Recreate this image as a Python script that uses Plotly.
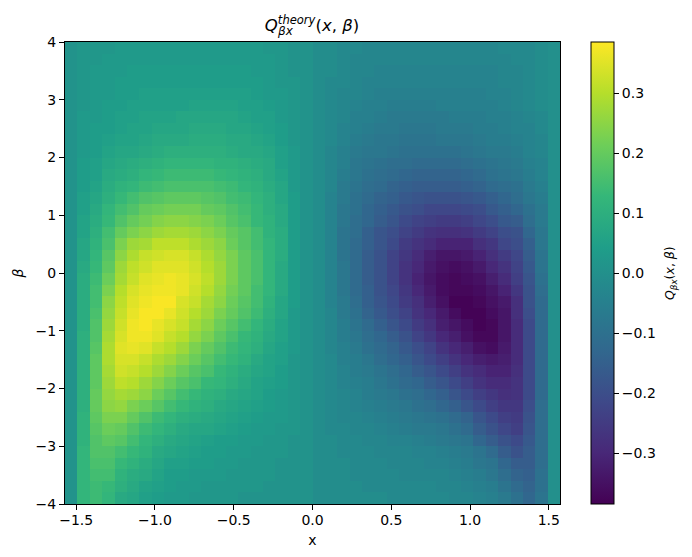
import plotly.graph_objects as go

x_centers = [-1.5315, -1.4529, -1.3744, -1.2959, -1.2173, -1.1388, -1.0603, -0.9817, -0.9032, -0.8247,
             -0.7461, -0.6676, -0.5890, -0.5105, -0.4320, -0.3534, -0.2749, -0.1963, -0.1178, -0.0393,
             0.0393, 0.1178, 0.1963, 0.2749, 0.3534, 0.4320, 0.5105, 0.5890, 0.6676, 0.7461,
             0.8247, 0.9032, 0.9817, 1.0603, 1.1388, 1.2173, 1.2959, 1.3744, 1.4529, 1.5315]
beta_centers = [3.9, 3.7, 3.5, 3.3, 3.1, 2.9, 2.7, 2.5, 2.3, 2.1, 1.9, 1.7, 1.5, 1.3, 1.1, 0.9, 0.7, 0.5, 0.3, 0.1,
                -0.1, -0.3, -0.5, -0.7, -0.9, -1.1, -1.3, -1.5, -1.7, -1.9, -2.1, -2.3, -2.5, -2.7, -2.9, -3.1, -3.3, -3.5, -3.7, -3.9]

# values in hundredths, rows from beta=3.9 down to beta=-3.9
q_left = [
 [1,2,2,2,3,3,3,3,3,3,3,3,3,3,3,3,2,2,1,1],
 [1,2,2,3,3,3,3,3,3,3,3,3,3,3,3,3,3,2,1,1],
 [1,2,3,3,3,4,4,4,4,4,4,4,4,4,4,3,3,2,1,1],
 [1,2,3,3,4,4,4,4,4,4,4,4,4,4,4,4,3,2,2,1],
 [1,2,3,3,4,4,5,5,5,5,5,5,5,5,5,4,3,3,2,1],
 [1,2,3,4,4,5,5,5,5,5,6,6,6,6,5,5,4,3,2,1],
 [1,3,3,4,5,5,6,6,6,7,7,7,7,7,6,5,5,3,2,1],
 [1,3,4,4,5,6,6,7,7,7,8,8,8,7,7,6,5,4,2,1],
 [1,3,4,5,6,6,7,8,8,8,9,9,9,8,8,7,6,4,2,1],
 [1,3,4,6,7,7,8,9,10,10,10,10,10,9,8,8,7,5,3,1],
 [1,4,5,7,8,9,10,11,12,12,12,12,11,11,10,9,8,5,3,1],
 [1,4,5,8,9,10,12,13,14,14,14,14,13,12,11,10,8,6,3,1],
 [1,4,6,9,11,12,14,15,16,16,16,16,15,14,12,11,9,7,3,1],
 [1,5,7,10,13,15,17,18,19,19,19,18,17,15,14,12,10,7,4,1],
 [1,5,8,12,15,17,20,21,22,22,22,20,19,17,15,13,10,8,4,1],
 [1,6,9,13,17,20,22,24,25,25,24,23,21,18,16,13,11,8,4,1],
 [1,6,10,15,20,23,25,27,28,28,27,25,23,20,18,15,11,9,4,1],
 [1,7,11,16,23,27,28,31,31,31,29,27,25,21,18,15,12,9,4,1],
 [1,7,12,18,25,29,32,33,34,34,32,29,26,23,19,16,12,9,4,1],
 [1,8,13,19,27,31,33,35,35,35,33,30,27,23,19,16,12,8,4,1],
 [1,9,14,21,28,32,35,36,37,36,34,31,27,23,19,16,12,8,4,1],
 [1,9,15,23,30,34,36,37,37,36,33,30,26,22,19,15,12,8,4,1],
 [1,9,15,25,31,35,37,38,38,34,32,28,25,21,18,15,11,7,4,1],
 [1,9,16,26,32,36,38,38,36,33,30,27,23,20,17,14,10,7,3,1],
 [1,9,17,27,33,37,38,36,34,32,28,25,21,18,15,12,9,6,3,1],
 [1,10,17,28,34,37,37,35,32,30,26,23,19,16,13,11,8,6,3,1],
 [1,10,18,29,35,36,35,32,30,27,23,20,17,14,12,10,7,5,3,1],
 [1,10,19,29,34,34,32,29,27,24,21,18,15,13,11,8,6,5,2,1],
 [1,10,19,28,33,32,30,27,24,21,18,16,13,11,9,7,6,4,2,1],
 [1,10,19,27,31,30,27,24,21,18,16,13,12,10,8,6,5,4,2,1],
 [1,10,20,26,28,27,25,21,18,15,13,11,10,8,7,6,4,3,2,1],
 [1,10,20,25,26,23,21,18,15,13,11,10,8,7,6,5,4,3,2,1],
 [1,11,19,23,23,20,17,14,12,10,9,8,7,6,5,4,3,3,2,1],
 [1,11,18,21,20,17,14,12,10,8,7,7,6,5,4,3,3,2,2,1],
 [1,11,17,19,18,15,12,10,8,7,6,5,4,4,3,3,2,2,1,1],
 [1,12,17,17,15,13,11,8,7,6,5,4,4,3,3,2,2,2,1,1],
 [1,12,16,16,13,11,9,7,5,5,4,4,3,3,2,2,2,1,1,1],
 [1,12,15,15,11,9,8,6,4,4,3,3,3,2,2,2,2,1,1,1],
 [1,12,14,13,10,8,6,5,4,3,3,2,2,2,2,2,1,1,1,1],
 [1,12,14,12,8,7,5,4,3,3,2,2,2,2,1,1,1,1,1,1],
]
q_right = [
 [-1,-1,-2,-2,-3,-3,-3,-3,-3,-3,-3,-3,-3,-3,-3,-2,-2,-2,-1,0],
 [-1,-1,-2,-3,-3,-3,-3,-3,-3,-3,-3,-3,-3,-3,-3,-3,-2,-2,-1,0],
 [-1,-1,-2,-3,-3,-4,-4,-4,-4,-4,-4,-4,-4,-4,-4,-3,-3,-2,-1,0],
 [-1,-2,-2,-3,-4,-4,-4,-4,-4,-4,-4,-4,-4,-4,-4,-3,-3,-2,-1,0],
 [-1,-2,-3,-3,-4,-5,-5,-5,-5,-5,-5,-5,-5,-5,-4,-4,-3,-2,-1,0],
 [-1,-2,-3,-4,-5,-5,-6,-6,-6,-6,-5,-5,-5,-5,-5,-4,-3,-2,-1,0],
 [-1,-2,-3,-5,-5,-6,-7,-7,-7,-7,-7,-6,-6,-6,-5,-5,-4,-3,-2,0],
 [-1,-2,-4,-5,-6,-7,-7,-8,-8,-8,-7,-7,-7,-6,-6,-5,-4,-4,-2,0],
 [-1,-2,-4,-6,-7,-8,-8,-9,-9,-9,-8,-8,-8,-7,-6,-6,-5,-4,-3,0],
 [-1,-3,-5,-7,-8,-8,-9,-10,-10,-10,-10,-10,-9,-8,-7,-7,-6,-4,-3,0],
 [-1,-3,-5,-8,-9,-10,-11,-11,-12,-12,-12,-12,-11,-10,-9,-8,-7,-5,-4,0],
 [-1,-3,-6,-8,-10,-11,-12,-13,-14,-14,-14,-14,-13,-12,-10,-9,-8,-6,-4,0],
 [-1,-3,-7,-9,-11,-12,-14,-15,-16,-16,-16,-16,-15,-14,-12,-11,-10,-7,-5,0],
 [-1,-4,-7,-10,-12,-14,-15,-17,-18,-19,-19,-19,-18,-17,-15,-13,-11,-8,-6,0],
 [-1,-4,-8,-10,-13,-15,-17,-19,-20,-22,-22,-22,-21,-20,-17,-15,-13,-10,-7,0],
 [-1,-4,-8,-11,-13,-16,-18,-21,-23,-24,-25,-25,-24,-22,-20,-17,-16,-11,-7,0],
 [-1,-4,-9,-11,-15,-18,-20,-23,-25,-27,-28,-28,-27,-25,-23,-20,-19,-13,-8,0],
 [-1,-4,-9,-12,-15,-18,-21,-25,-27,-29,-31,-31,-31,-28,-26,-22,-20,-15,-8,0],
 [-1,-4,-9,-12,-16,-19,-23,-26,-29,-32,-34,-34,-33,-31,-28,-25,-22,-16,-9,0],
 [-1,-4,-8,-12,-16,-19,-23,-27,-30,-33,-35,-36,-35,-33,-30,-27,-23,-17,-9,0],
 [-1,-4,-8,-12,-16,-19,-23,-27,-31,-34,-36,-37,-36,-35,-32,-29,-24,-18,-10,0],
 [-1,-4,-8,-12,-15,-19,-22,-26,-30,-33,-36,-37,-37,-36,-34,-31,-26,-19,-11,0],
 [-1,-4,-7,-11,-15,-18,-21,-25,-28,-32,-35,-38,-38,-37,-35,-33,-28,-19,-12,0],
 [-1,-3,-7,-10,-14,-17,-20,-23,-27,-30,-33,-36,-38,-38,-36,-34,-28,-20,-12,0],
 [-1,-3,-6,-9,-12,-15,-18,-21,-25,-28,-32,-34,-36,-38,-37,-34,-29,-21,-12,0],
 [-1,-3,-6,-8,-11,-13,-16,-19,-23,-26,-30,-32,-35,-37,-37,-34,-29,-21,-12,0],
 [-1,-3,-5,-7,-10,-12,-14,-17,-20,-23,-27,-30,-32,-35,-36,-33,-29,-21,-12,0],
 [-1,-2,-5,-6,-8,-11,-13,-15,-18,-21,-24,-27,-30,-32,-33,-32,-29,-21,-12,0],
 [-1,-2,-4,-6,-7,-9,-11,-13,-16,-18,-21,-24,-27,-29,-31,-31,-28,-21,-12,0],
 [-1,-2,-4,-5,-6,-8,-10,-12,-13,-16,-18,-21,-24,-27,-29,-29,-27,-21,-12,0],
 [-1,-2,-3,-4,-6,-7,-8,-10,-11,-13,-15,-18,-21,-24,-26,-28,-27,-21,-12,0],
 [-1,-2,-3,-4,-5,-6,-7,-8,-10,-11,-13,-15,-18,-21,-24,-26,-26,-20,-11,0],
 [-1,-2,-3,-3,-4,-5,-6,-7,-8,-9,-10,-12,-14,-18,-21,-24,-25,-19,-11,0],
 [-1,-2,-2,-3,-3,-4,-5,-6,-7,-7,-8,-10,-12,-16,-19,-22,-24,-18,-11,0],
 [-1,-1,-2,-2,-3,-3,-4,-4,-5,-6,-7,-8,-9,-13,-16,-19,-21,-17,-11,0],
 [-1,-1,-2,-2,-2,-3,-3,-3,-4,-4,-5,-6,-7,-9,-12,-16,-19,-16,-11,0],
 [-1,-1,-1,-2,-2,-2,-3,-3,-3,-4,-4,-5,-6,-8,-9,-13,-16,-16,-11,0],
 [-1,-1,-1,-2,-2,-2,-2,-3,-3,-3,-3,-4,-5,-6,-8,-11,-14,-15,-10,0],
 [-1,-1,-1,-1,-2,-2,-2,-2,-2,-2,-3,-3,-4,-5,-6,-9,-12,-14,-10,0],
 [-1,-1,-1,-1,-1,-1,-2,-2,-2,-2,-2,-3,-3,-4,-5,-7,-10,-13,-9,0],
]

x_ticks = [-1.5, -1.0, -0.5, 0.0, 0.5, 1.0, 1.5]
x_tick_text = ["−1.5", "−1.0", "−0.5", "0.0", "0.5", "1.0", "1.5"]
beta_ticks = [-4, -3, -2, -1, 0, 1, 2, 3, 4]
beta_tick_text = ["−4", "−3", "−2", "−1", "0", "1", "2", "3", "4"]
cbar_ticks = [-0.3, -0.2, -0.1, 0.0, 0.1, 0.2, 0.3]
cbar_tick_text = ["−0.3", "−0.2", "−0.1", "0.0", "0.1", "0.2", "0.3"]

z = [[v / 100 for v in l + r] for l, r in zip(q_left, q_right)]

FONT = "DejaVu Sans"
fig = go.Figure(go.Heatmap(
    x=x_centers, y=beta_centers, z=z, colorscale="Viridis", zmin=-0.385, zmax=0.385,
    xgap=0, ygap=0,
    colorbar=dict(
        thickness=23, thicknessmode="pixels", len=1, lenmode="fraction",
        x=1.0626, xanchor="left", xref="paper", y=0.5, yanchor="middle", ypad=0, xpad=0,
        outlinecolor="black", outlinewidth=1,
        tickmode="array", tickvals=cbar_ticks, ticktext=cbar_tick_text,
        ticks="outside", ticklen=5, tickcolor="black", tickwidth=1,
        tickfont=dict(family=FONT, size=14, color="black"),
    ),
))
fig.update_layout(
    width=692, height=557, autosize=False,
    margin=dict(l=65, r=132, t=42, b=53),
    paper_bgcolor="white", plot_bgcolor="white",
    font=dict(family=FONT, size=14, color="black"),
    title=dict(text="<i>Q</i><sup><i>theory</i></sup>(<i>x</i>, <i>β</i>)", x=312 / 692, xanchor="center",
               y=1 - 25 / 557, yanchor="middle", font=dict(family=FONT, size=16.5, color="black")),
    annotations=[
        dict(text="<i>βx</i>", xref="paper", yref="paper", x=(285 - 65) / 495, y=1 + 11 / 462,
             xanchor="center", yanchor="middle", showarrow=False,
             font=dict(family=FONT, size=12, color="black")),
        dict(text="<i>Q<sub>βx</sub></i>(<i>x</i>, <i>β</i>)", xref="paper", yref="paper",
             x=(670 - 65) / 495, y=0.5, xanchor="center", yanchor="middle", textangle=-90,
             showarrow=False, font=dict(family=FONT, size=12.5, color="black")),
    ],
)
fig.update_xaxes(range=[-1.5708, 1.5708], tickmode="array", tickvals=x_ticks, ticktext=x_tick_text,
                 ticks="outside", ticklen=5, tickcolor="black", showline=True, linecolor="black",
                 linewidth=1, mirror=True, showgrid=False, zeroline=False, ticklabelstandoff=-2,
                 title=dict(text="x", standoff=8, font=dict(family=FONT, size=14)))
fig.update_yaxes(range=[-4, 4], tickmode="array", tickvals=beta_ticks, ticktext=beta_tick_text,
                 ticks="outside", ticklen=5, tickcolor="black", showline=True, linecolor="black",
                 linewidth=1, mirror=True, showgrid=False, zeroline=False,
                 title=dict(text="<i>β</i>", standoff=8, font=dict(family=FONT, size=14)))
fig.write_html("out.html", config={"displayModeBar": False}, post_script="document.body.style.margin='0';")
